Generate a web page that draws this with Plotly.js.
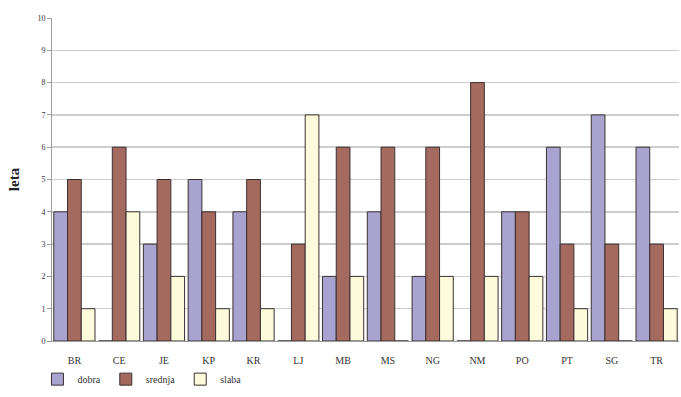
<!DOCTYPE html>
<html>
<head>
<meta charset="utf-8">
<script src="https://cdn.plot.ly/plotly-3.0.1.min.js"></script>
<style>
  html, body { margin: 0; padding: 0; background: #ffffff; }
  #chart { width: 681px; height: 397px; }
</style>
</head>
<body>
<div id="chart"></div>
<script>
// Regions (category codes)
const regions = ['BR', 'CE', 'JE', 'KP', 'KR', 'LJ', 'MB', 'MS', 'NG', 'NM', 'PO', 'PT', 'SG', 'TR'];

// Number of years per quality class
const dobra   = [4, 0, 3, 5, 4, 0, 2, 4, 2, 0, 4, 6, 7, 6];
const srednja = [5, 6, 5, 4, 5, 3, 6, 6, 6, 8, 4, 3, 3, 3];
const slaba   = [1, 4, 2, 1, 1, 7, 2, 0, 2, 2, 2, 1, 0, 1];

const yTicks = [0, 1, 2, 3, 4, 5, 6, 7, 8, 9, 10];

const serif = 'Liberation Serif, Times New Roman, serif';
const outline = { color: '#3a3030', width: 1 };

function series(name, values, fill) {
  return {
    type: 'bar',
    name: name,
    x: regions,
    y: values,
    marker: { color: fill, line: outline },
    hoverinfo: 'x+y+name'
  };
}

const data = [
  series('dobra', dobra, '#a8a3cf'),
  series('srednja', srednja, '#a4695f'),
  series('slaba', slaba, '#fbfadb')
];

const layout = {
  width: 681,
  height: 397,
  margin: { l: 52, r: 2, t: 18, b: 56 },
  paper_bgcolor: '#ffffff',
  plot_bgcolor: '#ffffff',
  barmode: 'group',
  bargap: 0.08,
  bargroupgap: 0,
  font: { family: serif, color: '#222222', size: 9 },
  xaxis: {
    type: 'category',
    automargin: false,
    showgrid: false,
    showline: true,
    linecolor: '#9a9a9a',
    linewidth: 1,
    ticks: '',
    tickfont: { family: serif, size: 10, color: '#333333' },
    ticklabelstandoff: 10
  },
  yaxis: {
    range: [0, 10],
    automargin: false,
    tickvals: yTicks,
    ticktext: yTicks.map(String),
    showgrid: true,
    gridcolor: '#cdcdcd',
    gridwidth: 1.5,
    zeroline: false,
    showline: true,
    linecolor: '#9a9a9a',
    ticks: 'outside',
    ticklen: 4,
    tickcolor: '#9a9a9a',
    tickfont: { family: serif, size: 8, color: '#333333' },
    title: { text: 'leta', font: { family: serif, size: 15, color: '#222222', weight: 'bold' }, standoff: 14 }
  },
  legend: {
    orientation: 'h',
    x: 0.055,
    xref: 'container',
    xanchor: 'left',
    y: 0.045,
    yref: 'container',
    yanchor: 'middle',
    font: { family: serif, size: 10, color: '#333333' },
    itemwidth: 30,
    tracegroupgap: 0,
    bgcolor: 'rgba(0,0,0,0)'
  },
  showlegend: true
};

Plotly.newPlot('chart', data, layout, { displayModeBar: false, staticPlot: true });
</script>
</body>
</html>
